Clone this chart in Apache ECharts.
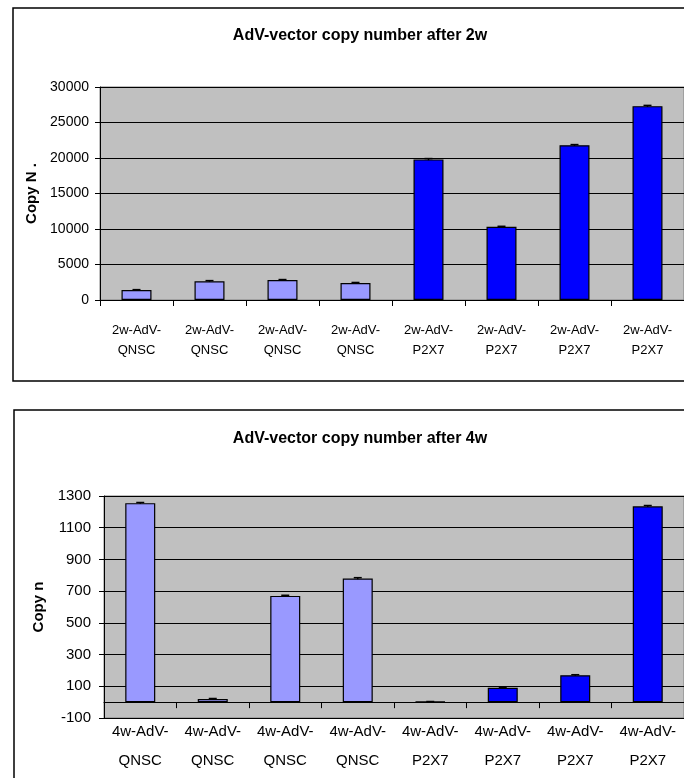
<!DOCTYPE html>
<html>
<head>
<meta charset="utf-8">
<script src="https://cdn.jsdelivr.net/npm/echarts@6/dist/echarts.min.js"></script>
<style>
  html, body { margin: 0; padding: 0; background: #ffffff; }
  #chart { width: 684px; height: 778px; }
</style>
</head>
<body>
<div id="chart"></div>
<script>
// Copy numbers per sample, 2 weeks after transduction
const labels2w = ['2w-AdV-\nQNSC', '2w-AdV-\nQNSC', '2w-AdV-\nQNSC', '2w-AdV-\nQNSC',
                  '2w-AdV-\nP2X7', '2w-AdV-\nP2X7', '2w-AdV-\nP2X7', '2w-AdV-\nP2X7'];
const values2w = [1400, 2650, 2800, 2400, 19800, 10300, 21800, 27300];
const errors2w = [60, 80, 80, 70, 120, 80, 90, 110];

// Copy numbers per sample, 4 weeks after transduction
const labels4w = ['4w-AdV-\nQNSC', '4w-AdV-\nQNSC', '4w-AdV-\nQNSC', '4w-AdV-\nQNSC',
                  '4w-AdV-\nP2X7', '4w-AdV-\nP2X7', '4w-AdV-\nP2X7', '4w-AdV-\nP2X7'];
const values4w = [1255, 20, 670, 780, 3, 90, 170, 1235];
const errors4w = [4, 3, 4, 5, 1, 4, 3, 5];

// Vector group of each sample (0 = QNSC, 1 = P2X7)
const groups = [0, 0, 0, 0, 1, 1, 1, 1];
const groupColors = ['#9999FF', '#0000FF'];

const ticks2w = { min: 0, max: 30000, interval: 5000 };
const ticks4w = { min: -100, max: 1300, interval: 200 };

const SANS = "'Liberation Sans', Arial, sans-serif";

const chart = echarts.init(document.getElementById('chart'), null, { renderer: 'canvas' });

function barData(values) {
  return values.map((v, i) => ({
    value: v,
    itemStyle: { color: groupColors[groups[i]] }
  }));
}

function errorData(values, errors) {
  return values.map((v, i) => [i, v - errors[i], v + errors[i]]);
}

function renderError(params, api) {
  const x = api.value(0);
  const lo = api.coord([x, api.value(1)]);
  const hi = api.coord([x, api.value(2)]);
  const half = 4;
  const style = { stroke: '#000', lineWidth: 1.5 };
  return {
    type: 'group',
    children: [
      { type: 'line', shape: { x1: hi[0], y1: hi[1], x2: lo[0], y2: lo[1] }, style },
      { type: 'line', shape: { x1: hi[0] - half, y1: hi[1], x2: hi[0] + half, y2: hi[1] }, style }
    ]
  };
}

function valueAxis(gridIndex, ticks, name, fontSize, margin, nameGap) {
  return {
    type: 'value',
    gridIndex,
    min: ticks.min,
    max: ticks.max,
    interval: ticks.interval,
    name,
    nameLocation: 'middle',
    nameGap,
    nameTextStyle: { fontFamily: SANS, fontWeight: 'bold', fontSize: 15, color: '#000' },
    axisLine: { show: true, lineStyle: { color: '#000', width: 1 } },
    axisTick: { show: true, length: 5, lineStyle: { color: '#000' } },
    axisLabel: { color: '#000', fontFamily: SANS, fontSize, margin,
                 formatter: v => String(v) },
    splitLine: { show: true, lineStyle: { color: '#000', width: 1 } }
  };
}

function categoryAxis(gridIndex, data, fontSize, lineHeight, margin) {
  return {
    type: 'category',
    gridIndex,
    data,
    axisLine: { show: true, onZero: true, lineStyle: { color: '#000', width: 1 } },
    axisTick: { show: true, length: 6, inside: false, lineStyle: { color: '#000' } },
    axisLabel: { color: '#000', fontFamily: SANS, fontSize, lineHeight, margin, interval: 0 },
    splitLine: { show: false }
  };
}

const option = {
  backgroundColor: '#ffffff',
  animation: false,
  graphic: [
    { type: 'rect', shape: { x: 13, y: 8, width: 700, height: 373 },
      style: { fill: 'none', stroke: '#000', lineWidth: 1.5 }, z: -1 },
    { type: 'rect', shape: { x: 14, y: 410, width: 700, height: 400 },
      style: { fill: 'none', stroke: '#000', lineWidth: 1.5 }, z: -1 }
  ],
  title: [
    { text: 'AdV-vector copy number after 2w', left: 355, top: 23, textAlign: 'center',
      textStyle: { fontFamily: SANS, fontWeight: 'bold', fontSize: 16, color: '#000' } },
    { text: 'AdV-vector copy number after 4w', left: 355, top: 426, textAlign: 'center',
      textStyle: { fontFamily: SANS, fontWeight: 'bold', fontSize: 16, color: '#000' } }
  ],
  grid: [
    { left: 100, top: 87, width: 588, height: 213, show: true,
      backgroundColor: '#C0C0C0', borderColor: '#808080', borderWidth: 1 },
    { left: 104, top: 496, width: 587, height: 222, show: true,
      backgroundColor: '#C0C0C0', borderColor: '#808080', borderWidth: 1 }
  ],
  xAxis: [
    categoryAxis(0, labels2w, 13, 20, 20),
    categoryAxis(1, labels4w, 15, 29, -1)
  ],
  yAxis: [
    valueAxis(0, ticks2w, 'Copy N .', 14, 11, 44),
    valueAxis(1, ticks4w, 'Copy n', 15, 13, 47)
  ],
  series: [
    { type: 'bar', xAxisIndex: 0, yAxisIndex: 0, data: barData(values2w), barWidth: 30,
      itemStyle: { borderColor: '#000', borderWidth: 1.2 } },
    { type: 'custom', xAxisIndex: 0, yAxisIndex: 0, data: errorData(values2w, errors2w),
      renderItem: renderError, z: 5 },
    { type: 'bar', xAxisIndex: 1, yAxisIndex: 1, data: barData(values4w), barWidth: 30,
      itemStyle: { borderColor: '#000', borderWidth: 1.2 } },
    { type: 'custom', xAxisIndex: 1, yAxisIndex: 1, data: errorData(values4w, errors4w),
      renderItem: renderError, z: 5 }
  ]
};

chart.setOption(option);
</script>
</body>
</html>
